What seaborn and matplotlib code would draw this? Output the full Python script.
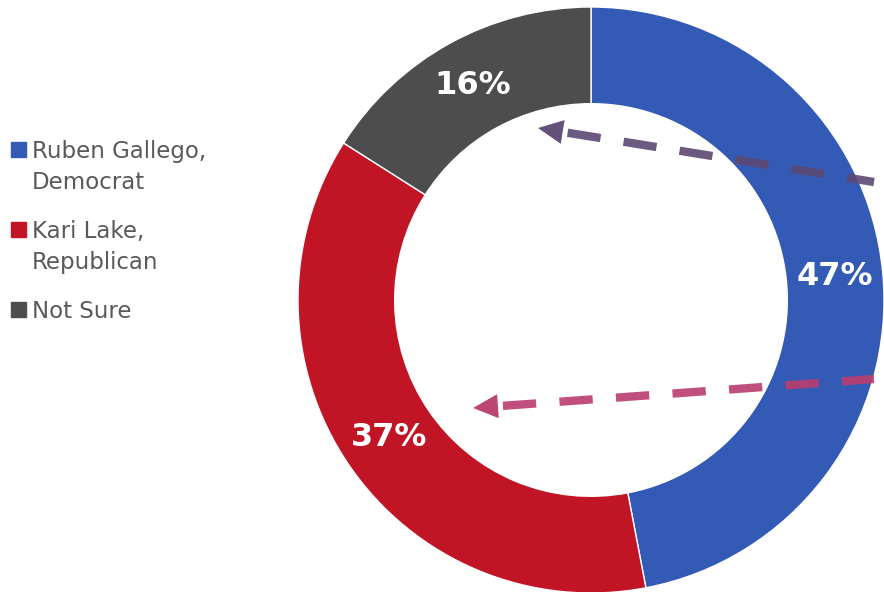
import matplotlib
matplotlib.use("Agg")
import matplotlib.pyplot as plt
import seaborn as sns
from matplotlib.lines import Line2D
from matplotlib.patches import Rectangle

# data
candidates = ["Ruben Gallego,\nDemocrat", "Kari Lake,\nRepublican", "Not Sure"]
shares = [47, 37, 16]
colors = ["#335BB6", "#C11424", "#4D4D4D"]

sns.set_theme(style="white")
plt.rcParams["font.family"] = ["DejaVu Sans"]

W, H = 884, 592
fig = plt.figure(figsize=(W / 100, H / 100), dpi=100)


def fx(px):
    return px / W


def fy(py):
    return 1 - py / H


# donut: center (591, 300), outer radius 293 px
cx, cy, r = 591, 300, 293
ax = fig.add_axes([fx(cx - r), fy(cy + r), 2 * r / W, 2 * r / H])
wedges, _, pct = ax.pie(shares, colors=colors, startangle=90, counterclock=False,
                        autopct="%.0f%%", pctdistance=0.835,
                        wedgeprops=dict(width=0.33, edgecolor="white", linewidth=1),
                        textprops=dict(color="white", fontsize=23, fontweight="bold"))
ax.set_aspect("equal")
ax.set_xlim(-1, 1)
ax.set_ylim(-1, 1)
ax.axis("off")

# legend, drawn by hand to match the layout
baselines = [158, 238, 318]
for lab, col, b in zip(candidates, colors, baselines):
    fig.add_artist(Rectangle((fx(11), fy(b - 1)), 15 / W, 15 / H,
                             transform=fig.transFigure, color=col))
    for i, line in enumerate(lab.split("\n")):
        fig.text(fx(32), fy(b + 31 * i), line, va="baseline", ha="left",
                 fontsize=16.5, color="#595959")

# dashed arrows (dash pattern starts at the head end)
arrows = [((874, 182), (538, 128), "#5C4872"),
          ((874, 379), (473, 408), "#BA3D6D")]
for (tx, ty), (hx, hy), col in arrows:
    dx, dy = tx - hx, ty - hy
    n = (dx ** 2 + dy ** 2) ** 0.5
    ux, uy = dx / n, dy / n
    bx, by = hx + ux * 25, hy + uy * 25
    sx, sy = hx + ux * 30, hy + uy * 30
    fig.add_artist(Line2D([fx(sx), fx(tx)], [fy(sy), fy(ty)], transform=fig.transFigure,
                          color=col, lw=6, alpha=0.9, dashes=(4.0, 2.8),
                          solid_capstyle="butt", dash_capstyle="butt"))
    fig.add_artist(plt.Polygon([(fx(hx), fy(hy)),
                                (fx(bx - uy * 12), fy(by + ux * 12)),
                                (fx(bx + uy * 12), fy(by - ux * 12))],
                               closed=True, transform=fig.transFigure, color=col, alpha=0.95, lw=0))

fig.savefig("out.png", dpi=100)
